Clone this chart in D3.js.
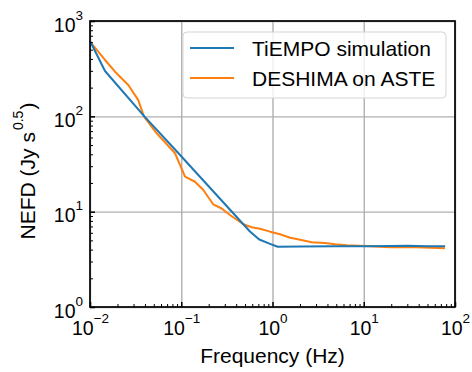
<!DOCTYPE html>
<html>
<head>
<meta charset="utf-8">
<script src="https://cdn.jsdelivr.net/npm/d3@7"></script>
<style>
  html, body { margin: 0; padding: 0; background: #fff; }
  svg { display: block; }
  text { font-family: "Liberation Sans", Arial, Helvetica, sans-serif; fill: #000; }
</style>
</head>
<body>
<svg id="chart" width="472" height="372"></svg>
<script>
// ---- data ----
const seriesNames = ["TiEMPO simulation", "DESHIMA on ASTE"];
const tiempoFreq = [0.0101, 0.0146, 0.0394, 0.089, 0.566, 0.716, 0.94, 1.14, 2, 5, 10, 20, 30, 50, 78];
const tiempoNefd = [605, 299, 100, 43, 6.2, 5.1, 4.6, 4.28, 4.3, 4.33, 4.35, 4.36, 4.38, 4.35, 4.35];
const desFreq = [0.0101, 0.0146, 0.0188, 0.0263, 0.0338, 0.0391, 0.0538, 0.0855, 0.110, 0.1415, 0.1746, 0.2245, 0.277, 0.342, 0.479, 0.591, 0.73, 0.94, 1.21, 1.56, 1.84, 2.69, 3.76, 4.84, 6.5, 10.3, 19.4, 38, 77.6];
const desNefd = [600, 390, 294, 213, 148, 99, 66.4, 41, 23.3, 20.6, 16.9, 11.9, 10.8, 9.23, 7.37, 6.86, 6.63, 6.17, 5.79, 5.33, 5.17, 4.77, 4.69, 4.55, 4.44, 4.36, 4.23, 4.23, 4.13];
const xTickExps = [-2, -1, 0, 1, 2];
const yTickExps = [0, 1, 2, 3];
const xLabel = "Frequency (Hz)";
const yLabelMain = "NEFD (Jy s";
const yLabelSup = "0.5";
const colors = ["#1f77b4", "#ff7f0e"];

// ---- layout ----
const L = 90, R = 455, T = 21, B = 307;
const svg = d3.select("#chart");
const x = d3.scaleLog().domain([0.01, 100]).range([L, R]);
const y = d3.scaleLog().domain([1, 1000]).range([B, T]);

const xMajors = xTickExps.map(e => Math.pow(10, e));
const yMajors = yTickExps.map(e => Math.pow(10, e));
function minors(lo, hi) {
  const out = [];
  for (let e = lo; e < hi; e++) for (let k = 2; k <= 9; k++) out.push(k * Math.pow(10, e));
  return out;
}
const xMinors = minors(-2, 2);
const yMinors = minors(0, 3);

// grid
const gridX = svg.append("g").attr("transform", `translate(0,${B})`)
  .call(d3.axisBottom(x).tickValues(xMajors).tickSize(-(B - T)).tickFormat(""));
const gridY = svg.append("g").attr("transform", `translate(${L},0)`)
  .call(d3.axisLeft(y).tickValues(yMajors).tickSize(-(R - L)).tickFormat(""));
[gridX, gridY].forEach(g => {
  g.select(".domain").remove();
  g.selectAll(".tick line").attr("stroke", "#b0b0b0").attr("stroke-width", 1.4);
});

// lines
svg.append("clipPath").attr("id", "clip").append("rect")
  .attr("x", L).attr("y", T).attr("width", R - L).attr("height", B - T);
const line = d3.line().x(d => x(d[0])).y(d => y(d[1]));
const series = [
  d3.zip(tiempoFreq, tiempoNefd),
  d3.zip(desFreq, desNefd)
];
svg.append("path").datum(series[1]).attr("clip-path", "url(#clip)")
  .attr("d", line).attr("fill", "none").attr("stroke", colors[1]).attr("stroke-width", 2)
  .attr("stroke-linejoin", "round");
svg.append("path").datum(series[0]).attr("clip-path", "url(#clip)")
  .attr("d", line).attr("fill", "none").attr("stroke", colors[0]).attr("stroke-width", 2)
  .attr("stroke-linejoin", "round");

// ticks (inward)
function ticks(axisFn, scale, vals, size, width, transform) {
  const g = svg.append("g").attr("transform", transform)
    .call(axisFn(scale).tickValues(vals).tickSize(-size).tickFormat(""));
  g.select(".domain").remove();
  g.selectAll(".tick line").attr("stroke", "#000").attr("stroke-width", width);
  return g;
}
ticks(d3.axisBottom, x, xMinors, 3, 1, `translate(0,${B})`);
ticks(d3.axisLeft, y, yMinors, 3, 1, `translate(${L},0)`);
const xAxisG = ticks(d3.axisBottom, x, xMajors, 5, 1.5, `translate(0,${B})`);
const yAxisG = ticks(d3.axisLeft, y, yMajors, 5, 1.5, `translate(${L},0)`);

// tick labels
function expLabel(sel, e) {
  sel.append("tspan").text("10").style("font-size", "19.5px");
  sel.append("tspan").text(e < 0 ? "\u2212" + (-e) : String(e))
    .style("font-size", "13.5px").attr("dy", -12);
}
xAxisG.selectAll(".tick").each(function(d) {
  const e = Math.round(Math.log10(d));
  const t = d3.select(this).append("text").attr("x", 0).attr("y", 28)
    .attr("text-anchor", "middle");
  expLabel(t, e);
});
yAxisG.selectAll(".tick").each(function(d) {
  const e = Math.round(Math.log10(d));
  const t = d3.select(this).append("text").attr("x", -7).attr("y", 10)
    .attr("text-anchor", "end");
  expLabel(t, e);
});

// spines
svg.append("rect").attr("x", L).attr("y", T).attr("width", R - L).attr("height", B - T)
  .attr("fill", "none").attr("stroke", "#000").attr("stroke-width", 1.7);

// axis labels
svg.append("text").attr("x", (L + R) / 2).attr("y", 363).attr("text-anchor", "middle")
  .style("font-size", "21px").text(xLabel);
const yl = svg.append("text").attr("transform", `translate(35,171) rotate(-90)`)
  .attr("text-anchor", "middle").style("font-size", "21px");
yl.append("tspan").text(yLabelMain);
yl.append("tspan").text(yLabelSup).style("font-size", "14px").attr("dy", -12).attr("dx", 2);
yl.append("tspan").text(")").attr("dy", 12).attr("dx", 1);

// legend
const lg = svg.append("g");
lg.append("rect").attr("x", 183).attr("y", 32).attr("width", 263).attr("height", 66)
  .attr("rx", 4).attr("fill", "#fff").attr("fill-opacity", 0.8)
  .attr("stroke", "#d5d5d5").attr("stroke-width", 1);
seriesNames.forEach((name, i) => {
  const cy = 48 + i * 30;
  lg.append("line").attr("x1", 190).attr("x2", 234).attr("y1", cy).attr("y2", cy)
    .attr("stroke", colors[i]).attr("stroke-width", 2.2);
  lg.append("text").attr("x", 252).attr("y", cy + 7.5).style("font-size", "21px").text(name);
});
</script>
</body>
</html>
